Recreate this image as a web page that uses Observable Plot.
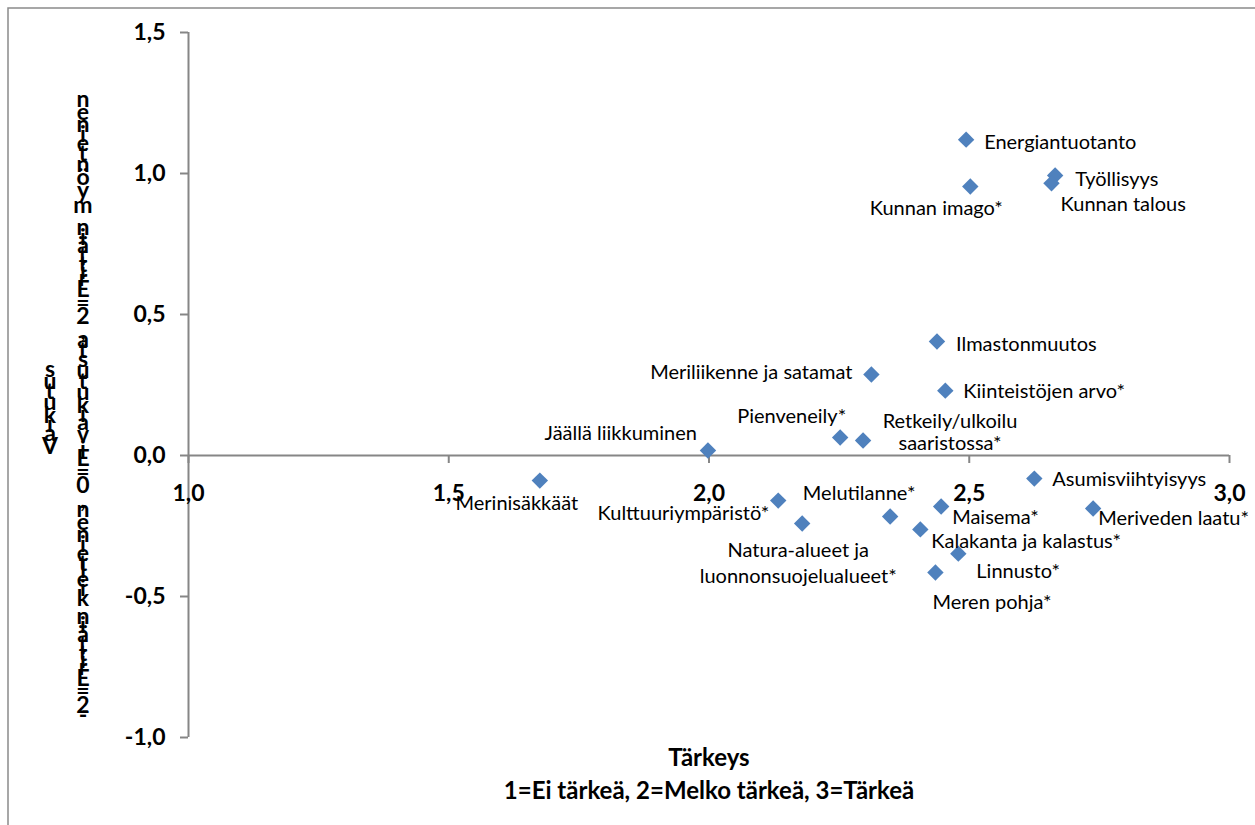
<!DOCTYPE html>
<html>
<head>
<meta charset="utf-8">
<script src="https://cdn.jsdelivr.net/npm/d3@7"></script>
<script src="https://cdn.jsdelivr.net/npm/@observablehq/plot@0.6"></script>
<style>
  html, body { margin: 0; padding: 0; background: #fff; }
  #chart { position: relative; width: 1255px; height: 825px; overflow: hidden; }
</style>
</head>
<body>
<div id="chart"></div>
<script>
// ---- Data ----
const names = [
  "Energiantuotanto", "Työllisyys", "Kunnan talous", "Kunnan imago*",
  "Ilmastonmuutos", "Meriliikenne ja satamat", "Kiinteistöjen arvo*",
  "Pienveneily*", "Retkeily/ulkoilu\nsaaristossa*", "Jäällä liikkuminen",
  "Merinisäkkäät", "Kulttuuriympäristö*", "Natura-alueet ja\nluonnonsuojelualueet*",
  "Melutilanne*", "Maisema*", "Kalakanta ja kalastus*", "Linnusto*",
  "Meren pohja*", "Asumisviihtyisyys", "Meriveden laatu*"
];
const importance = [
  2.494, 2.665, 2.658, 2.502,
  2.438, 2.312, 2.454,
  2.252, 2.296, 1.998,
  1.675, 2.133, 2.179,
  2.348, 2.446, 2.406, 2.479,
  2.435, 2.625, 2.738
];
const impact = [
  1.12, 0.993, 0.965, 0.954,
  0.404, 0.287, 0.230,
  0.064, 0.053, 0.018,
  -0.089, -0.160, -0.241,
  -0.216, -0.181, -0.262, -0.348,
  -0.415, -0.082, -0.188
];
const xTicks = [1, 1.5, 2, 2.5, 3];
const yTicks = [-1, -0.5, 0, 0.5, 1, 1.5];
const xTitle = "Tärkeys";
const xSubtitle = "1=Ei tärkeä, 2=Melko tärkeä, 3=Tärkeä";
const yTitle = "Vaikutus";
const ySubtitle = "-2=Erittäin kielteinen, 0=Ei vaikutusta, 2=Erittäin myönteinen";

// ---- Label placement (layout only) ----
const labelLayout = [
  {anchor: "start",  dx: 18,  dy: 2,   lh: 1.2},
  {anchor: "start",  dx: 20,  dy: 3,   lh: 1.2},
  {anchor: "start",  dx: 9,   dy: 20,  lh: 1.2},
  {anchor: "middle", dx: -34, dy: 21,  lh: 1.2},
  {anchor: "start",  dx: 19,  dy: 2,   lh: 1.2},
  {anchor: "end",    dx: -19, dy: -3,  lh: 1.2},
  {anchor: "start",  dx: 18,  dy: 0,   lh: 1.2},
  {anchor: "end",    dx: 6,   dy: -22, lh: 1.2},
  {anchor: "middle", dx: 87,  dy: -9,  lh: 1.12},
  {anchor: "end",    dx: -11, dy: -18, lh: 1.2},
  {anchor: "middle", dx: -23, dy: 22,  lh: 1.2},
  {anchor: "end",    dx: -9,  dy: 12,  lh: 1.2},
  {anchor: "middle", dx: -4,  dy: 38,  lh: 1.3},
  {anchor: "middle", dx: -31, dy: -24, lh: 1.2},
  {anchor: "start",  dx: 11,  dy: 10,  lh: 1.2},
  {anchor: "start",  dx: 11,  dy: 11,  lh: 1.2},
  {anchor: "start",  dx: 18,  dy: 17,  lh: 1.2},
  {anchor: "start",  dx: -3,  dy: 29,  lh: 1.2},
  {anchor: "start",  dx: 18,  dy: 0,   lh: 1.2},
  {anchor: "start",  dx: 5,   dy: 9,   lh: 1.2}
];

const points = names.map((n, i) => ({name: n, x: importance[i], y: impact[i], i}));
const fmt = d => d.toFixed(1).replace(".", ",");
const AXIS = "#868686";
const FONT = "Lato, 'Open Sans', sans-serif";

const labelMarks = points.map((p, i) => {
  const L = labelLayout[i];
  return Plot.text([p], {
    x: "x", y: "y", text: "name",
    textAnchor: L.anchor, dx: L.dx, dy: L.dy, lineHeight: L.lh,
    fontSize: 20, fill: "#000"
  });
});

const svg = Plot.plot({
  width: 1255,
  height: 825,
  marginLeft: 188,
  marginRight: 26,
  marginTop: 32,
  marginBottom: 88,
  style: {fontFamily: FONT, background: "transparent", overflow: "visible"},
  x: {domain: [1, 3], axis: null},
  y: {domain: [-1, 1.5], axis: null},
  marks: [
    // axis lines
    Plot.ruleX([1], {stroke: AXIS, strokeWidth: 2}),
    Plot.ruleY([0], {stroke: AXIS, strokeWidth: 2}),
    // y ticks (outward, to the left)
    Plot.ruleY(yTicks, {y: d => d, x1: () => 1, x2: () => 1, insetLeft: -8, stroke: AXIS, strokeWidth: 2}),
    Plot.text(yTicks, {y: d => d, frameAnchor: "left", dx: -23, textAnchor: "end",
      text: fmt, fontSize: 23, fontWeight: "bold", fill: "#000"}),
    // x ticks (downward from the zero line)
    Plot.ruleX(xTicks, {x: d => d, y1: () => 0, y2: () => 0, insetBottom: -8, stroke: AXIS, strokeWidth: 2}),
    Plot.text(xTicks, {x: d => d, y: () => 0, dy: 38, text: fmt,
      fontSize: 23, fontWeight: "bold", fill: "#000"}),
    // points
    Plot.dot(points, {x: "x", y: "y", symbol: "diamond2", r: 7.4, fill: "#4F81BD", stroke: "none"}),
    ...labelMarks,
    // x titles
    Plot.text([xTitle], {frameAnchor: "bottom", dy: 28, text: d => d, fontSize: 24, fontWeight: "bold", fill: "#000"}),
    Plot.text([xSubtitle], {frameAnchor: "bottom", dy: 61, text: d => d, fontSize: 24, fontWeight: "bold", fill: "#000"})
  ]
});

// chart-area border (top + left visible)
d3.select(svg).insert("rect", ":first-child")
  .attr("x", 8).attr("y", 8).attr("width", 1300).attr("height", 900)
  .attr("fill", "none").attr("stroke", "#8a8a8a").attr("stroke-width", 1.5);

// stacked vertical y-axis title (upright glyphs along a bottom-to-top baseline)
function stackedText(text, cx, cy, size) {
  const ctx = document.createElement("canvas").getContext("2d");
  ctx.font = `bold ${size}px Lato`;
  const total = ctx.measureText(text).width;
  let pos = cy + total / 2;
  const g = d3.select(svg).append("g")
    .attr("font-family", FONT).attr("font-weight", "bold").attr("font-size", size)
    .attr("fill", "#000").attr("text-anchor", "middle");
  for (const ch of text) {
    const w = ctx.measureText(ch).width;
    if (ch !== " ") {
      g.append("text").attr("x", cx).attr("y", pos - w / 2)
        .attr("dy", "0.35em").text(ch);
    }
    pos -= w;
  }
}
stackedText(yTitle, 50, 410, 23);
stackedText(ySubtitle, 83, 408, 23);

document.getElementById("chart").appendChild(svg);
</script>
</body>
</html>
